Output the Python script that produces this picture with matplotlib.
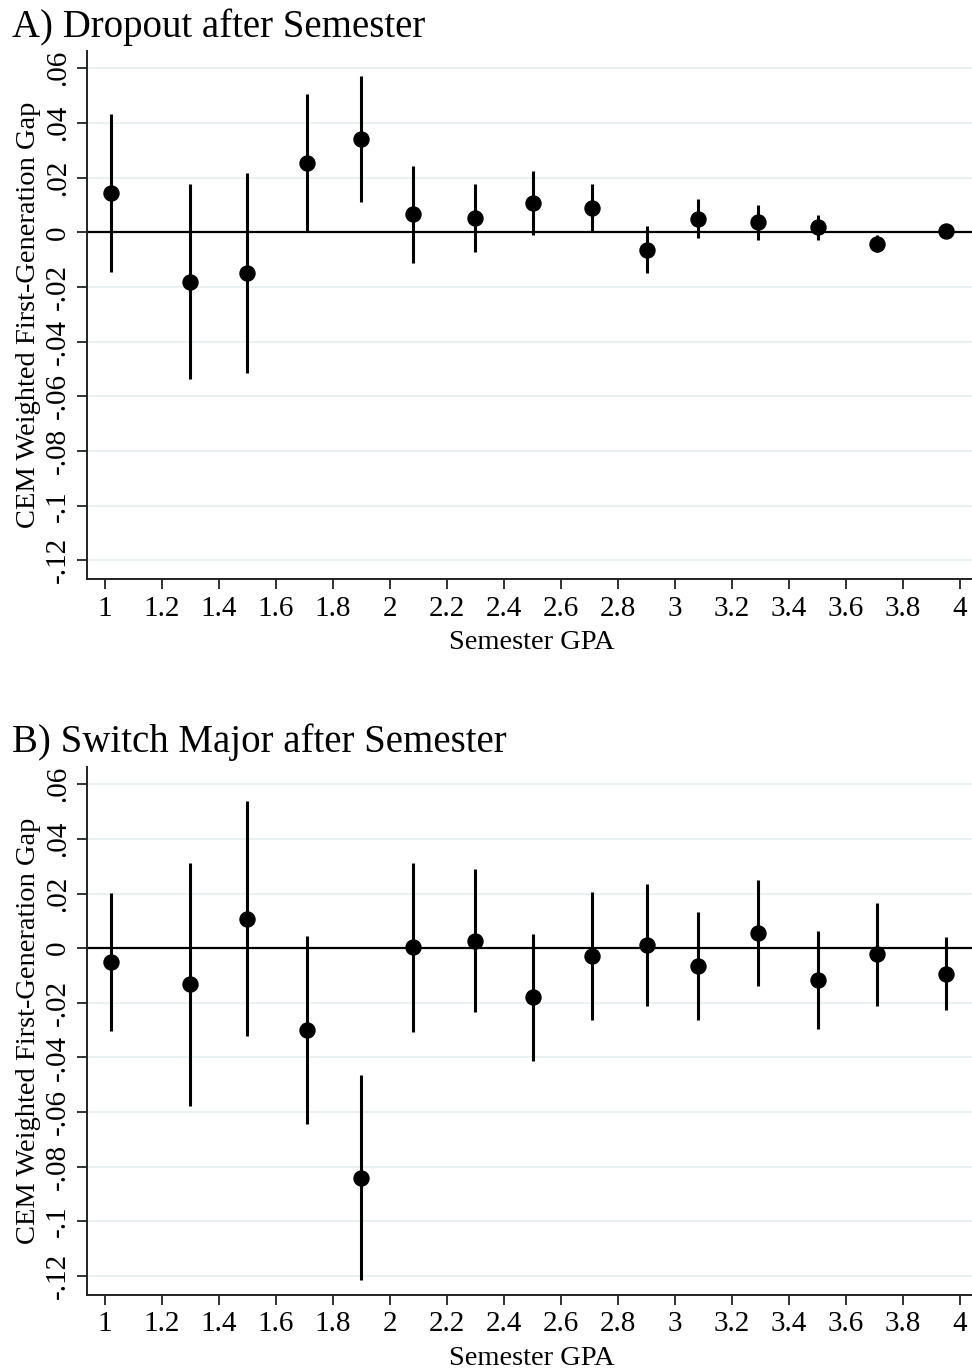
import matplotlib
matplotlib.use('Agg')
import matplotlib.pyplot as plt

# フォント設定 (Times系)
plt.rcParams['font.family'] = ['Liberation Serif', 'DejaVu Serif']

# データ
gpa = [1.02, 1.30, 1.50, 1.71, 1.90, 2.08, 2.30, 2.50, 2.71, 2.90, 3.08, 3.29, 3.50, 3.71, 3.95]

dropout_coef = [0.0144, -0.0181, -0.0150, 0.0255, 0.0342, 0.0066, 0.0051, 0.0106,
                0.0089, -0.0064, 0.0050, 0.0038, 0.0018, -0.0042, 0.0005]
dropout_lo = [-0.0146, -0.0536, -0.0513, 0.0002, 0.0110, -0.0112, -0.0073, -0.0011,
              0.0000, -0.0149, -0.0022, -0.0027, -0.0027, -0.0073, -0.0005]
dropout_hi = [0.0434, 0.0178, 0.0217, 0.0507, 0.0573, 0.0244, 0.0177, 0.0223,
              0.0175, 0.0022, 0.0121, 0.0100, 0.0063, -0.0010, 0.0015]

switch_coef = [-0.0049, -0.0132, 0.0108, -0.0299, -0.0840, 0.0003, 0.0027, -0.0180,
               -0.0029, 0.0011, -0.0066, 0.0057, -0.0116, -0.0022, -0.0093]
switch_lo = [-0.0303, -0.0578, -0.0320, -0.0645, -0.1215, -0.0307, -0.0233, -0.0413,
             -0.0264, -0.0212, -0.0264, -0.0137, -0.0297, -0.0212, -0.0227]
switch_hi = [0.0202, 0.0313, 0.0539, 0.0046, -0.0465, 0.0312, 0.0289, 0.0053,
             0.0204, 0.0236, 0.0132, 0.0248, 0.0064, 0.0167, 0.0042]

xticks = [1, 1.2, 1.4, 1.6, 1.8, 2, 2.2, 2.4, 2.6, 2.8, 3, 3.2, 3.4, 3.6, 3.8, 4]
xtick_labels = ['1', '1.2', '1.4', '1.6', '1.8', '2', '2.2', '2.4', '2.6', '2.8',
                '3', '3.2', '3.4', '3.6', '3.8', '4']
yticks = [0.06, 0.04, 0.02, 0, -0.02, -0.04, -0.06, -0.08, -0.1, -0.12]
ytick_labels = ['.06', '.04', '.02', '0', '-.02', '-.04', '-.06', '-.08', '-.1', '-.12']

panels = [
    ('A) Dropout after Semester', dropout_coef, dropout_lo, dropout_hi),
    ('B) Switch Major after Semester', switch_coef, switch_lo, switch_hi),
]

W, H = 972, 1370
fig = plt.figure(figsize=(W / 100, H / 100), dpi=100)

# 各パネルの配置 (ピクセル: 上端, 下端)
boxes = [(50.7, 579.0), (766.7, 1294.7)]
title_y = [37.0, 752.0]
left_px, right_px = 87.3, 972.0

grid_color = '#e9f1f3'

for (title, coef, lo, hi), (top, bot), ty in zip(panels, boxes, title_y):
    ax = fig.add_axes([left_px / W, 1 - bot / H, (right_px - left_px) / W, (bot - top) / H])

    # グリッドとゼロ線
    for yv in yticks:
        ax.axhline(yv, color=grid_color, lw=1.4, zorder=0)
    ax.axhline(0, color='black', lw=1.6, zorder=1)

    # 信頼区間と点推定
    ax.vlines(gpa, lo, hi, color='black', lw=2.2, zorder=2)
    ax.plot(gpa, coef, 'o', color='black', ms=10.8, zorder=3)

    ax.set_xlim(0.938, 4.042)
    ax.set_ylim(-0.1268, 0.0664)

    ax.set_xticks(xticks)
    ax.set_xticklabels(xtick_labels)
    ax.set_yticks(yticks)
    ax.set_yticklabels(ytick_labels, rotation=90, va='center')

    ax.tick_params(axis='both', direction='out', length=7, width=1.3,
                   labelsize=21, pad=5, color='#222222')
    for s in ['top', 'right']:
        ax.spines[s].set_visible(False)
    for s in ['left', 'bottom']:
        ax.spines[s].set_linewidth(1.4)
        ax.spines[s].set_color('#222222')

    ax.set_xlabel('Semester GPA', fontsize=20.5)
    ax.set_ylabel('CEM Weighted First-Generation Gap', fontsize=20.5)
    ax.xaxis.set_label_coords((532 - left_px) / (right_px - left_px), -0.097)
    ax.yaxis.set_label_coords(-(left_px - 41) / (right_px - left_px), 0.5)

    fig.text(12 / W, 1 - ty / H, title, fontsize=28, ha='left', va='baseline')

fig.savefig('out.png', dpi=100)
